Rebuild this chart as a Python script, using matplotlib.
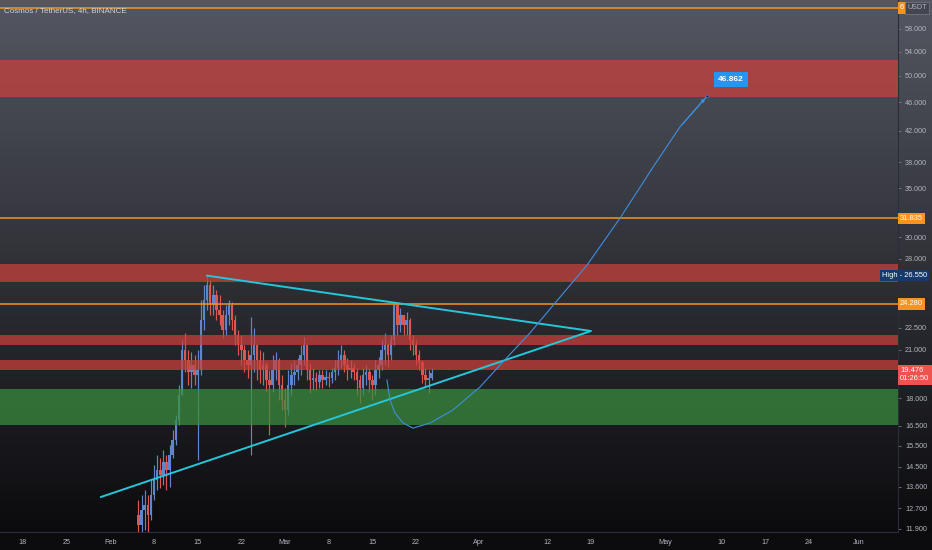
import matplotlib.pyplot as plt
import matplotlib.dates as mdates
import numpy as np
import pandas as pd
from matplotlib.ticker import NullLocator

plt.rcParams['font.family'] = ['Liberation Sans', 'DejaVu Sans']

title = 'Cosmos / TetherUS, 4h, BINANCE'

# 12h candles (open of each = previous close)
candle_start = '2021-02-05 12:00'
first_open = 12.44
closes = [12.05, 12.64, 12.84, 12.44, 13.25, 13.90, 14.35, 14.12, 14.71, 14.35,
          15.04, 15.78, 16.81, 18.19, 20.98, 20.33, 19.57, 20.01, 19.39, 19.69,
          23.07, 24.58, 25.78, 24.19, 24.97, 23.81, 23.44, 22.35, 23.44, 24.19,
          23.07, 22.00, 21.32, 20.98, 20.33, 20.01, 20.65, 21.32, 20.33, 19.69,
          20.01, 19.08, 18.78, 19.69, 20.33, 18.78, 17.90, 17.35, 18.78, 19.39,
          19.57, 20.01, 20.65, 21.32, 19.69, 19.08, 19.20, 18.96, 19.39, 19.08,
          19.26, 19.20, 19.57, 19.82, 20.33, 20.65, 20.01, 19.69, 19.82, 19.57,
          19.08, 18.60, 19.39, 19.57, 19.08, 18.78, 19.69, 20.01, 20.98, 21.32,
          20.65, 21.66, 24.19, 22.71, 23.44, 22.71, 23.07, 21.66, 21.32, 20.65,
          20.20, 19.39, 19.08, 19.20, 19.476]
highs = [13.04, 13.25, 13.46, 13.25, 13.90, 14.58, 15.04, 14.90, 15.28, 15.04,
         15.53, 16.28, 17.08, 18.78, 21.66, 22.14, 20.98, 20.85, 20.65, 20.98,
         24.58, 25.78, 26.55, 26.19, 25.78, 25.37, 24.97, 23.81, 24.19, 24.58,
         24.42, 23.44, 22.35, 22.00, 21.32, 20.98, 23.29, 22.49, 21.32, 20.98,
         20.85, 20.20, 19.69, 20.65, 20.85, 20.46, 19.39, 18.60, 19.69, 20.14,
         20.33, 20.46, 21.32, 21.86, 21.32, 20.14, 19.82, 19.57, 19.69, 19.69,
         19.69, 19.57, 19.82, 20.33, 20.98, 21.32, 20.98, 20.46, 20.33, 20.14,
         19.82, 19.39, 19.82, 20.01, 19.82, 19.39, 20.33, 20.52, 21.66, 22.14,
         21.45, 22.00, 24.42, 24.35, 23.97, 23.44, 23.66, 23.22, 22.00, 21.66,
         20.98, 20.33, 19.82, 19.69, 19.82]
lows = [11.31, 11.49, 11.86, 11.68, 12.24, 13.04, 13.46, 13.55, 13.68, 13.46,
        13.59, 14.90, 15.53, 16.55, 18.19, 19.57, 18.78, 18.60, 18.78, 14.81,
        19.39, 22.35, 23.81, 23.44, 23.44, 23.07, 22.71, 21.79, 22.00, 22.71,
        22.35, 21.32, 20.65, 20.01, 19.57, 19.20, 15.04, 19.57, 19.08, 18.90,
        18.78, 18.37, 16.03, 18.37, 19.08, 17.90, 17.35, 16.44, 17.08, 18.19,
        18.78, 19.08, 19.39, 20.01, 19.08, 18.31, 18.48, 18.48, 18.60, 18.60,
        18.78, 18.66, 18.90, 19.08, 19.39, 19.82, 19.57, 19.08, 19.20, 19.08,
        18.19, 17.74, 18.19, 18.78, 18.37, 17.90, 18.19, 19.20, 19.69, 20.01,
        19.88, 20.33, 21.32, 22.00, 22.21, 22.00, 22.00, 20.98, 20.65, 20.01,
        19.69, 18.90, 18.60, 18.31, 19.08]

red_zones = [(46.75, 52.6), (26.04, 27.57), (21.3, 22.0), (19.69, 20.33)]
green_zone = (16.54, 18.54)
orange_levels = [62.0, 31.835, 24.28]

tri_dates = ['2021-02-16 12:00', '2021-04-19 01:00', '2021-01-30 12:00']
tri_prices = [26.55, 22.28, 13.17]

path_dates = ['2021-03-17 08:00', '2021-03-17 20:00', '2021-03-18 15:00', '2021-03-19 22:00',
              '2021-03-21 12:00', '2021-03-24 06:00', '2021-03-27 22:00', '2021-04-01 06:00',
              '2021-04-04 22:00', '2021-04-09 06:00', '2021-04-14 02:00', '2021-04-18 10:00',
              '2021-04-23 17:00', '2021-04-29 00:00', '2021-05-03 07:00', '2021-05-07 15:00']
path_prices = [19.08, 17.91, 17.18, 16.65, 16.38, 16.65, 17.35, 18.66,
               20.20, 22.14, 24.81, 27.46, 31.87, 37.46, 42.52, 46.862]
target = 46.862
last_price = 19.476
countdown = '01:26:50'
day_high = 26.55

xtick_dates = ['2021-01-18', '2021-01-25', '2021-02-01', '2021-02-08', '2021-02-15',
               '2021-02-22', '2021-03-01', '2021-03-08', '2021-03-15', '2021-03-22',
               '2021-04-01', '2021-04-12', '2021-04-19', '2021-05-01', '2021-05-10',
               '2021-05-17', '2021-05-24', '2021-06-01']
xtick_labels = ['18', '25', 'Feb', '8', '15', '22', 'Mar', '8', '15', '22',
                'Apr', '12', '19', 'May', '10', '17', '24', 'Jun']
yticks = [58, 54, 50, 46, 42, 38, 35, 30, 28, 22.5, 21, 18, 16.5, 15.5, 14.5, 13.6, 12.7, 11.9]

W, H = 932, 550
fig = plt.figure(figsize=(W / 100, H / 100), dpi=100, facecolor='#0c0c0e')

# gradient background (chart + price scale)
bg = fig.add_axes([0, 18 / H, 1, 532 / H])
top_c = np.array([0.33, 0.34, 0.38])
bot_c = np.array([0.045, 0.045, 0.055])
t = np.linspace(0, 1, 256)[:, None]
grad = top_c[None, :] * (1 - t) + bot_c[None, :] * t
bg.imshow(grad[:, None, :], aspect='auto', extent=[0, 1, 0, 1])
bg.set_axis_off()

ax = fig.add_axes([0, 18 / H, 898 / W, 532 / H])
ax.set_facecolor('none')
ax.set_yscale('log')

times = pd.date_range(candle_start, periods=len(closes), freq='12h')
opens = [first_open] + closes[:-1]
up = np.array(closes) >= np.array(opens)
col = np.where(up, '#5f86cc', '#dc5652')
ax.vlines(times, lows, highs, colors=col, lw=0.85, zorder=2)
bottoms = np.minimum(opens, closes)
heights = np.maximum(np.abs(np.array(closes) - np.array(opens)), 0.04)
ax.bar(times, heights, bottom=bottoms, width=0.4, color=col, lw=0, zorder=2)

for lo, hi in red_zones:
    ax.axhspan(lo, hi, color='#cc403b', alpha=0.72, lw=0, zorder=3)
ax.axhspan(green_zone[0], green_zone[1], color='#3a8f3e', alpha=0.72, lw=0, zorder=3)

for lv in orange_levels:
    ax.axhline(lv, color='#f7931e', lw=1.1, zorder=4)

tri_t = pd.to_datetime(tri_dates)
ax.plot(tri_t, tri_prices, color='#26c6da', lw=1.4, zorder=5)

pt = pd.to_datetime(path_dates)
ax.plot(pt, path_prices, color='#3d8fe0', lw=0.8, zorder=5)
ax.annotate('', xy=(pt[-1], path_prices[-1]), xytext=(pt[-2], path_prices[-2]),
            arrowprops=dict(arrowstyle='-|>', color='#3d8fe0', lw=0.8, mutation_scale=5),
            zorder=6)
ax.plot([pt[-1]], [path_prices[-1]], 'o', ms=2, color='#131722', mec='#3d8fe0', mew=0.5, zorder=6)
ax.annotate(f'{target:.3f}', xy=(pt[-1], target), xytext=(24, 17), textcoords='offset pixels',
            ha='center', va='center', color='white', fontsize=6, fontweight='bold',
            bbox=dict(boxstyle='square,pad=0.5', fc='#2196f3', ec='none'), zorder=7)

ax.set_xlim(pd.Timestamp('2021-01-14 07:30'), pd.Timestamp('2021-06-07 06:00'))
ax.set_ylim(11.787, 63.58)

ax.set_xticks(pd.to_datetime(xtick_dates))
ax.set_xticklabels(xtick_labels)
ax.yaxis.tick_right()
ax.set_yticks(yticks)
ax.set_yticklabels([f'{v:.3f}' for v in yticks])
ax.yaxis.set_minor_locator(NullLocator())
ax.xaxis.set_minor_locator(NullLocator())
ax.tick_params(axis='x', length=0, pad=5, labelsize=5.2, labelcolor='#b2b5be')
ax.tick_params(axis='y', length=2, width=0.6, color='#787b86', pad=3, labelsize=5.2,
               labelcolor='#b2b5be')
for s in ['top', 'left']:
    ax.spines[s].set_visible(False)
ax.spines['right'].set_color('#2a2e39')
ax.spines['bottom'].set_color('#2a2e39')
ax.spines['right'].set_linewidth(0.8)
ax.spines['bottom'].set_linewidth(0.8)

yt = ax.get_yaxis_transform()


def price_label(price, text, fc, tc='white', x=1.0, ha='left', dy=0, va='center'):
    ax.annotate(text, xy=(x, price), xycoords=yt, xytext=(2, dy), textcoords='offset pixels',
                ha=ha, va=va, fontsize=5.4, color=tc, annotation_clip=False,
                bbox=dict(boxstyle='square,pad=0.3', fc=fc, ec='none'), zorder=10)


price_label(orange_levels[0], '6', '#f7931e')
ax.annotate('USDT', xy=(907 / 898, orange_levels[0]), xycoords=yt, ha='left', va='center',
            fontsize=5.2, color='#b2b5be', annotation_clip=False,
            bbox=dict(boxstyle='square,pad=0.3', fc='#434651', ec='#787b86', lw=0.5), zorder=10)
price_label(orange_levels[1], f'{orange_levels[1]:.3f}', '#f7931e')
price_label(orange_levels[2], f'{orange_levels[2]:.3f}', '#f7931e')
price_label(day_high, f'High - {day_high:.3f}', '#153a6b', x=925 / 898, ha='right')
price_label(last_price, f'{last_price:.3f}\n{countdown}', '#ef5350', dy=6, va='top')

fig.text(4 / W, 1 - 11 / H, title, ha='left', va='center', fontsize=5.8, color='#d1d4dc')

fig.savefig('out.png', dpi=100, facecolor=fig.get_facecolor())
